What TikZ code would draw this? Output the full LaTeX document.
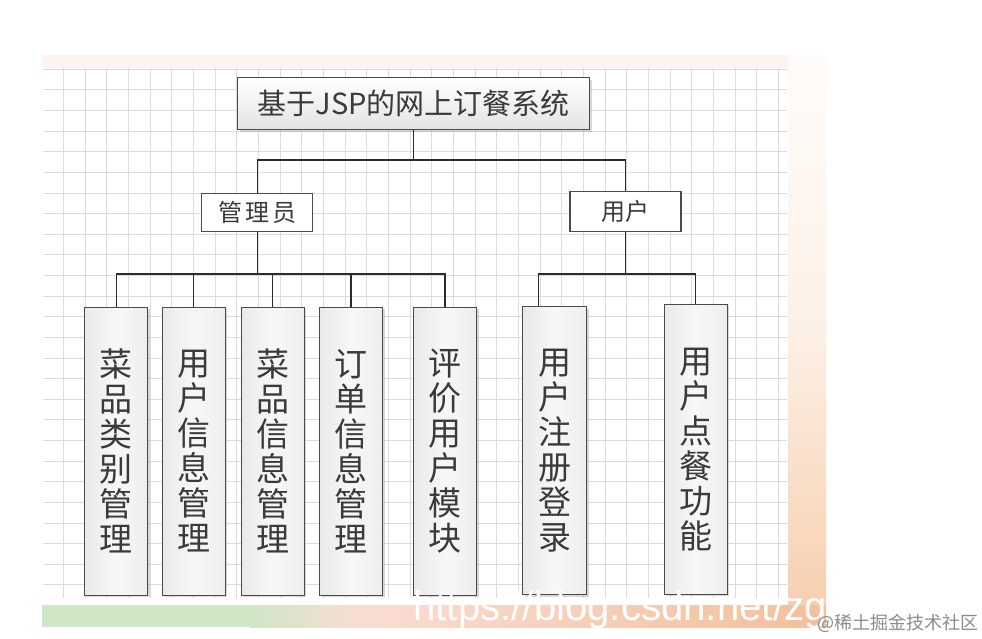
\documentclass[tikz,border=0pt]{standalone}
\usepackage{fontspec}
\setmainfont{Liberation Sans}
\newfontfamily\cjk{Noto Sans CJK SC}
\usetikzlibrary{shadows,calc}
\definecolor{gridc}{HTML}{DCDCDC}
\definecolor{boxc}{HTML}{4A4A4A}
\definecolor{linec}{HTML}{2B2B2B}
\definecolor{txt}{HTML}{3A3A3A}
\definecolor{leafside}{HTML}{E9E9E9}
\definecolor{topband}{HTML}{FDF4F2}
\definecolor{peach}{HTML}{F6CDAC}
\definecolor{bandgreen}{HTML}{CFE6C7}
\definecolor{bandpink}{HTML}{F9DDD3}
\definecolor{bandorange}{HTML}{F4BF9B}
\definecolor{wmgrey}{HTML}{8C8C8C}
\begin{document}
\begin{tikzpicture}[x=1pt,y=-1pt,
  gridline/.style={draw=gridc, line width=0.9pt},
  conn/.style={draw=linec, line width=1.3pt},
  shadowed/.style={drop shadow={opacity=0.3, shadow xshift=2pt, shadow yshift=-2pt}},
  titlebox/.style={draw=boxc, line width=1.2pt, minimum width=352pt, minimum height=52pt,
    inner sep=0pt, top color=white, bottom color=gray!22, shadowed,
    font=\cjk\fontsize{29}{32}\selectfont, text=txt},
  midbox/.style={draw=boxc, line width=1.2pt, minimum width=111pt, minimum height=38pt,
    inner sep=0pt, fill=white, font=\cjk\fontsize{24}{26}\selectfont, text=txt},
  leaf/.style={draw=boxc, line width=1.2pt, minimum width=63pt, minimum height=288pt,
    inner sep=0pt, left color=leafside, right color=leafside!80, middle color=white!97!black, shadowed,
    font=\cjk\fontsize{33}{35}\selectfont, text=txt, align=center}
]
\useasboundingbox (0,0) rectangle (982,638);
\fill[white] (0,0) rectangle (982,638);

% backdrop
\fill[topband] (42,55) rectangle (826,68);
\shade[top color=peach!6, bottom color=peach!30] (788,55) rectangle (826,330);
\shade[top color=peach!30, bottom color=peach!95] (788,329.5) rectangle (826,604);
\foreach \k in {0,...,33} \draw[gridline] ({63.3+21.67*\k},68) -- ({63.3+21.67*\k},598);
\foreach \k in {0,...,25} \draw[gridline] (43,{69.3+20.62*\k}) -- (787,{69.3+20.62*\k});
\fill[bandgreen] (42,605) rectangle (251,627);
\shade[left color=bandgreen, right color=bandpink] (250,605) rectangle (361,627);
\shade[left color=bandpink, right color=bandorange] (360,605) rectangle (826,627);

% nodes
\node[titlebox] (title) at (413.7,103.7) {基于JSP的网上订餐系统};
\node[midbox] (admin) at (257.2,212.5) {管\hspace{3pt}理\hspace{3pt}员};
\node[midbox, minimum height=40pt] (user) at (625.5,211.7) {用户};

\node[leaf] (l1) at (116.2,451.2) {菜\\品\\类\\别\\管\\理};
\node[leaf] (l2) at (193.8,451.2) {用\\户\\信\\息\\管\\理};
\node[leaf] (l3) at (272.7,451.2) {菜\\品\\信\\息\\管\\理};
\node[leaf] (l4) at (351.0,451.2) {订\\单\\信\\息\\管\\理};
\node[leaf] (l5) at (445.0,451.2) {评\\价\\用\\户\\模\\块};
\node[leaf, minimum width=64pt] (l6) at (554.5,450.8) {用\\户\\注\\册\\登\\录};
\node[leaf, minimum width=63pt, minimum height=290pt] (l7) at (695.7,449.3) {用\\户\\点\\餐\\功\\能};

% connectors
\coordinate (hub) at (title.south |- 0,160);
\draw[conn] (title.south) -- (hub);
\draw[conn] (admin.north) |- (hub) -| (user.north);

\coordinate (abus) at (admin.south |- 0,274);
\draw[conn] (admin.south) -- (abus);
\draw[conn] (l1.north) |- (abus) -| (l5.north);
\foreach \n in {l2,l3,l4} \draw[conn] (\n.north) -- (\n.north |- abus);

\coordinate (ubus) at (user.south |- 0,274);
\draw[conn] (user.south) -- (ubus);
\coordinate (l6t) at ([xshift=-16pt]l6.north);
\draw[conn] (l6t) |- (ubus) -| (l7.north);

% watermarks
\node[font=\fontsize{41}{41}\selectfont, text=white, xscale=0.98, anchor=base, inner sep=0pt] (wm) at (620,620) {https://blog.csdn.net/zg};
\node[font=\cjk\fontsize{18}{20}\selectfont, text=wmgrey, anchor=west, inner sep=0pt] (wm2) at (817,623) {@稀土掘金技术社区};
\end{tikzpicture}
\end{document}
